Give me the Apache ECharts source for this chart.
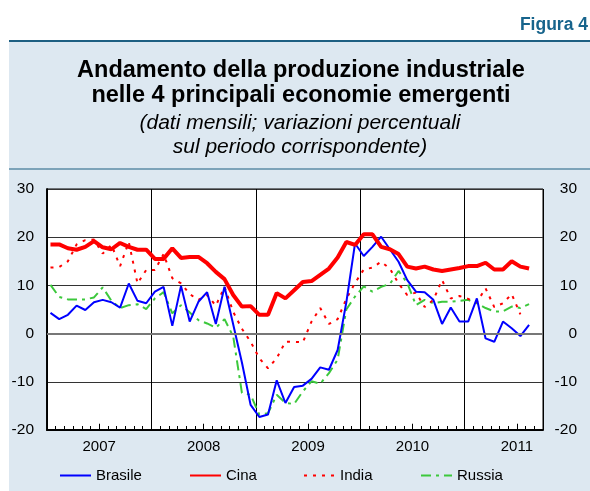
<!DOCTYPE html>
<html>
<head>
<meta charset="utf-8">
<script src="https://cdn.jsdelivr.net/npm/echarts@6/dist/echarts.min.js"></script>
<style>
html, body { margin: 0; padding: 0; background: #fff; }
#container { width: 590px; height: 491px; }
</style>
</head>
<body>
<div id="container"></div>
<script>
// dati mensili, gen 2007 - ago 2011
var years = ['2007', '2008', '2009', '2010', '2011'];
var brasile = [4.3, 3.0, 3.9, 5.8, 4.9, 6.5, 7.0, 6.5, 5.4, 10.4, 6.8, 6.3, 8.7, 9.7, 1.6, 9.9, 2.5, 6.6, 8.6, 2.0,
    9.7, 1.9, -6.0, -14.8, -17.3, -16.8, -9.7, -14.4, -11.1, -10.8, -9.4, -7.0, -7.5, -3.4, 6.5, 18.7, 16.1, 18.0, 20.1, 17.5,
    14.9, 11.1, 8.7, 8.6, 7.0, 2.0, 5.4, 2.5, 2.5, 7.3, -1.0, -1.7, 2.5, 1.1, -0.5, 1.8];
var cina = [18.5, 18.5, 17.7, 17.4, 18.0, 19.2, 17.9, 17.5, 18.8, 18.0, 17.4, 17.4, 15.5, 15.5, 17.7, 15.7, 15.9, 15.9, 14.6, 12.8,
    11.3, 8.0, 5.6, 5.7, 3.9, 3.9, 8.4, 7.3, 9.0, 10.7, 10.9, 12.2, 13.5, 15.8, 19.0, 18.4, 20.6, 20.6, 18.0, 17.5,
    16.5, 13.9, 13.5, 13.9, 13.3, 13.0, 13.3, 13.6, 14.0, 14.0, 14.7, 13.3, 13.3, 15.0, 13.9, 13.5];
var india = [13.7, 13.8, 15.0, 18.5, 19.4, 19.5, 16.6, 18.4, 14.0, 19.0, 10.4, 13.2, 13.2, 16.5, 11.5, 10.4, 8.2, 7.0, 8.0, 5.8,
    9.7, 4.5, 1.0, -1.7, -5.1, -7.2, -5.1, -1.7, -1.7, -1.8, 2.5, 5.3, 2.0, 3.0, 7.2, 10.5, 13.3, 13.7, 14.9, 13.5,
    10.4, 8.0, 8.5, 5.5, 7.0, 11.1, 7.3, 7.8, 7.2, 6.5, 9.4, 5.5, 6.3, 8.2, 4.0];
var russia = [10.1, 7.6, 7.1, 7.1, 7.1, 7.5, 9.6, 6.8, 5.3, 5.9, 6.1, 5.1, 7.3, 8.6, 4.2, 5.9, 4.4, 2.8, 2.1, 1.2,
    3.0, -0.6, -12.3, -12.7, -16.8, -16.5, -12.7, -14.4, -14.6, -12.0, -9.9, -10.4, -8.2, -5.4, 5.0, 7.7, 9.8, 8.7, 9.7, 10.3,
    13.0, 10.5, 5.9, 7.0, 6.3, 6.6, 6.6, 6.8, 7.0, 6.3, 5.3, 4.6, 4.6, 5.6, 5.3, 6.1];
var yTicks = [-20, -10, 0, 10, 20, 30];

var FONT = 'Liberation Sans';
var MID = 0.4; // punto a metà mese
function toPairs(arr) {
    return arr.map(function (v, i) { return [i + MID, v]; });
}

// tacche lunghe a metà anno
var midYearTicks = years.map(function (y, k) {
    var m = k * 12 + 6;
    return [
        { coord: [m, -20], lineStyle: { color: '#000', width: 1, type: 'solid' } },
        { coord: [m, -18.7] }
    ];
});

function legendAt(name, left) {
    return {
        left: left, top: 468, padding: 0,
        itemWidth: 31, itemHeight: 14, itemGap: 0,
        itemStyle: { opacity: 0 },
        data: [name],
        textStyle: { fontSize: 15, color: '#000', fontFamily: FONT }
    };
}

var dom = document.getElementById('container');
var myChart = echarts.init(dom, null, { renderer: 'canvas' });

var option = {
    backgroundColor: '#fff',
    animation: false,
    textStyle: { fontFamily: FONT },
    graphic: [
        { type: 'rect', z: -10, shape: { x: 9, y: 41, width: 581, height: 450 }, style: { fill: '#dde8f1' } },
        { type: 'rect', z: -9, shape: { x: 9, y: 40, width: 581, height: 2 }, style: { fill: '#1d5f82' } },
        { type: 'rect', z: -9, shape: { x: 9, y: 168.5, width: 581, height: 1 }, style: { fill: '#1d5f82' } },
        { type: 'text', x: 588, y: 25, style: { text: 'Figura 4', font: 'bold 17.5px ' + FONT, fill: '#17648c', textAlign: 'right', textVerticalAlign: 'middle' } },
        { type: 'text', x: 301, y: 71, style: { text: 'Andamento della produzione industriale', font: 'bold 23.5px ' + FONT, fill: '#000', textAlign: 'center', textVerticalAlign: 'middle' } },
        { type: 'text', x: 301, y: 96, style: { text: 'nelle 4 principali economie emergenti', font: 'bold 23.5px ' + FONT, fill: '#000', textAlign: 'center', textVerticalAlign: 'middle' } },
        { type: 'text', x: 300, y: 123, style: { text: '(dati mensili; variazioni percentuali', font: 'italic 21px ' + FONT, fill: '#000', textAlign: 'center', textVerticalAlign: 'middle' } },
        { type: 'text', x: 300, y: 147, style: { text: 'sul periodo corrispondente)', font: 'italic 21px ' + FONT, fill: '#000', textAlign: 'center', textVerticalAlign: 'middle' } }
    ],
    legend: [
        legendAt('Brasile', 59),
        legendAt('Cina', 189),
        legendAt('India', 303),
        legendAt('Russia', 420)
    ],
    grid: {
        left: 47,
        right: 47,
        top: 189,
        bottom: 61,
        show: true,
        backgroundColor: '#fff',
        borderColor: '#000',
        borderWidth: 1
    },
    xAxis: [{
        type: 'value',
        min: 0,
        max: 57,
        interval: 12,
        axisLine: { show: true, onZero: false, lineStyle: { color: '#000', width: 2 } },
        axisTick: { show: false },
        axisLabel: { show: false },
        splitLine: { show: true, lineStyle: { color: '#000', width: 1 } }
    }, {
        type: 'value',
        min: 0,
        max: 57,
        interval: 1,
        position: 'bottom',
        axisLine: { show: false, onZero: false },
        axisTick: { show: true, inside: true, length: 4, lineStyle: { color: '#000', width: 1 } },
        axisLabel: {
            margin: 9,
            fontSize: 15,
            color: '#000',
            fontFamily: FONT,
            formatter: function (v) {
                if (v % 12 === 6) return years[Math.floor(v / 12)] || '';
                return '';
            }
        },
        splitLine: { show: false }
    }],
    yAxis: [{
        type: 'value',
        min: yTicks[0],
        max: yTicks[yTicks.length - 1],
        interval: 10,
        position: 'left',
        axisLine: { show: true, lineStyle: { color: '#000', width: 1.5 } },
        axisTick: { show: false },
        axisLabel: { margin: 13, fontSize: 15.5, color: '#000', fontFamily: FONT },
        splitLine: { show: true, lineStyle: { color: '#333', width: 1 } }
    }, {
        type: 'value',
        min: yTicks[0],
        max: yTicks[yTicks.length - 1],
        interval: 10,
        position: 'right',
        axisLine: { show: true, lineStyle: { color: '#000', width: 1.5 } },
        axisTick: { show: false },
        axisLabel: { margin: 34, align: 'right', fontSize: 15.5, color: '#000', fontFamily: FONT },
        splitLine: { show: false }
    }],
    series: [{
        name: 'zero',
        type: 'line',
        data: [],
        z: 1,
        silent: true,
        markLine: {
            silent: true,
            symbol: 'none',
            label: { show: false },
            animation: false,
            data: [
                { yAxis: 0, lineStyle: { color: '#777', width: 2, type: 'solid' } }
            ].concat(midYearTicks)
        }
    }, {
        name: 'Russia',
        type: 'line',
        data: toPairs(russia),
        showSymbol: false,
        symbol: 'none',
        color: '#3cc83c',
        lineStyle: { color: '#3cc83c', width: 2, type: [10, 5, 3, 5] }
    }, {
        name: 'India',
        type: 'line',
        data: toPairs(india),
        showSymbol: false,
        symbol: 'none',
        color: '#ff0000',
        lineStyle: { color: '#ff0000', width: 2, type: [3, 6] }
    }, {
        name: 'Brasile',
        type: 'line',
        data: toPairs(brasile),
        showSymbol: false,
        symbol: 'none',
        color: '#0000ff',
        lineStyle: { color: '#0000ff', width: 2 }
    }, {
        name: 'Cina',
        type: 'line',
        data: toPairs(cina),
        showSymbol: false,
        symbol: 'none',
        color: '#ff0000',
        lineStyle: { color: '#ff0000', width: 4 }
    }]
};

myChart.setOption(option, true);
</script>
</body>
</html>
